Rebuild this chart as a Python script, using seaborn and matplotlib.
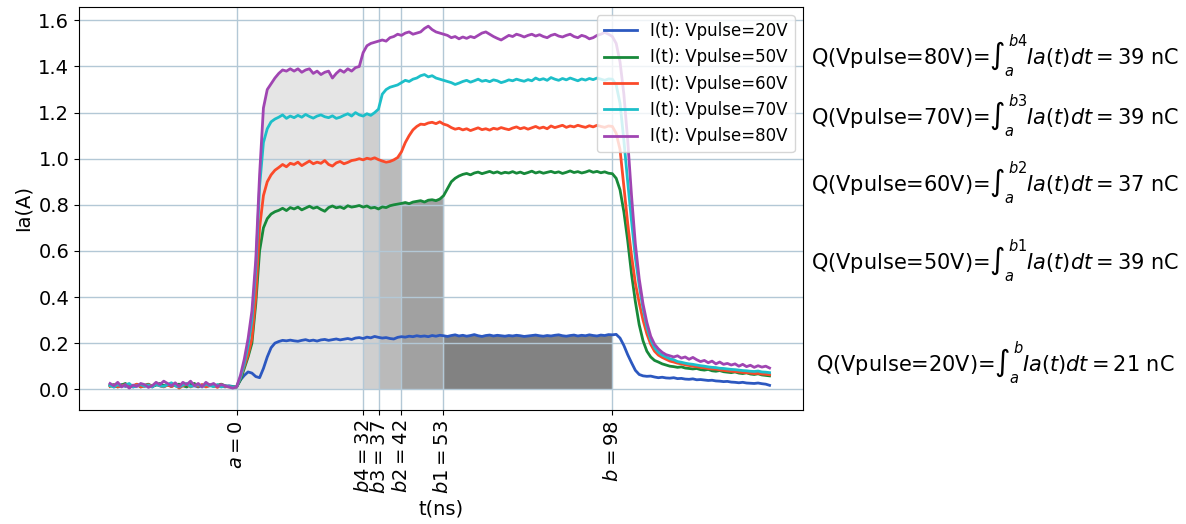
import numpy as np
import matplotlib
matplotlib.use("Agg")
import matplotlib.pyplot as plt
import seaborn as sns

# time samples (ns)
t_ns = np.arange(-33, 140)

# currents Ia(t) in A, one list per pulse voltage
i_20v = [
    0.02, 0.01, 0.015, 0.02, 0.012, 0.018, 0.01, 0.015, 0.022, 0.013,
    0.017, 0.01, 0.02, 0.015, 0.012, 0.018, 0.025, 0.015, 0.01, 0.017,
    0.013, 0.02, 0.015, 0.01, 0.018, 0.012, 0.016, 0.02, 0.013, 0.015,
    0.01, 0.015, 0.012,
    0.01, 0.04, 0.06, 0.075, 0.07, 0.055, 0.05, 0.09, 0.14, 0.18, 0.2, 0.207, 0.212, 0.21, 0.213,
    0.21, 0.208, 0.212, 0.215, 0.21, 0.213, 0.209, 0.214, 0.216, 0.212,
    0.215, 0.218, 0.214, 0.217, 0.22, 0.216, 0.222,
    0.224, 0.22, 0.226, 0.223, 0.229, 0.225, 0.222, 0.224, 0.22, 0.218,
    0.225, 0.228, 0.226, 0.23, 0.228, 0.232, 0.229, 0.231, 0.228, 0.233,
    0.23, 0.234,
    0.232, 0.229, 0.233, 0.236, 0.231, 0.234, 0.23, 0.233, 0.237, 0.232,
    0.229, 0.233, 0.235, 0.231, 0.234, 0.232, 0.23, 0.233, 0.231, 0.234,
    0.232, 0.229, 0.231, 0.233, 0.235, 0.232, 0.23, 0.233, 0.231, 0.234,
    0.236, 0.232, 0.23, 0.233, 0.235, 0.231, 0.234, 0.232, 0.236, 0.233,
    0.231, 0.235, 0.233, 0.237,
    0.236, 0.238, 0.222, 0.19, 0.15, 0.115, 0.082, 0.064, 0.058, 0.056,
    0.057, 0.053, 0.05, 0.052, 0.049, 0.048, 0.05, 0.046, 0.047, 0.044,
    0.043, 0.045, 0.041, 0.042, 0.04, 0.038, 0.039, 0.036, 0.035, 0.033,
    0.034, 0.031, 0.03, 0.028, 0.03, 0.027, 0.026, 0.025, 0.027, 0.024,
    0.022, 0.017,
]

i_50v = [
    0.015, 0.02, 0.01, 0.018, 0.025, 0.012, 0.015, 0.02, 0.01, 0.017,
    0.022, 0.013, 0.018, 0.025, 0.015, 0.02, 0.012, 0.018, 0.022, 0.015,
    0.01, 0.02, 0.025, 0.013, 0.018, 0.015, 0.02, 0.012, 0.017, 0.022,
    0.015, 0.012, 0.01,
    0.01, 0.04, 0.09, 0.14, 0.2, 0.37, 0.6, 0.7, 0.74, 0.76, 0.77, 0.776, 0.785, 0.775, 0.788,
    0.782, 0.79, 0.778, 0.786, 0.794, 0.785, 0.79, 0.78, 0.772, 0.788,
    0.795, 0.787, 0.791, 0.784, 0.796, 0.79, 0.793,
    0.797, 0.79, 0.795, 0.786, 0.789, 0.782, 0.791, 0.788, 0.796, 0.8,
    0.803, 0.806, 0.81, 0.805, 0.812, 0.815, 0.818, 0.812, 0.82, 0.822,
    0.818, 0.825,
    0.84, 0.87, 0.9, 0.915, 0.925, 0.932, 0.936, 0.93, 0.938, 0.942,
    0.935, 0.94, 0.945, 0.938, 0.943, 0.936, 0.941, 0.938, 0.944, 0.937,
    0.942, 0.935, 0.94, 0.946, 0.938, 0.943, 0.937, 0.941, 0.945, 0.939,
    0.943, 0.936, 0.941, 0.947, 0.94, 0.944, 0.938, 0.942, 0.948, 0.941,
    0.945, 0.939, 0.943, 0.937,
    0.935, 0.915, 0.865, 0.77, 0.645, 0.5, 0.38, 0.28, 0.21, 0.165,
    0.14, 0.125, 0.118, 0.11, 0.105, 0.1, 0.098, 0.095, 0.097, 0.092,
    0.09, 0.088, 0.09, 0.085, 0.083, 0.086, 0.08, 0.078, 0.081, 0.076,
    0.074, 0.072, 0.075, 0.07, 0.068, 0.071, 0.066, 0.064, 0.067, 0.062,
    0.06, 0.058,
]

i_60v = [
    0.012, 0.018, 0.01, 0.015, 0.02, 0.008, 0.015, 0.022, 0.01, 0.014,
    0.02, 0.012, 0.025, 0.015, 0.01, 0.018, 0.012, 0.02, 0.005, 0.015,
    0.022, 0.01, 0.017, 0.013, 0.02, 0.01, 0.015, 0.018, 0.008, 0.02,
    0.012, 0.01, 0.008,
    0.01, 0.05, 0.1, 0.15, 0.22, 0.4, 0.7, 0.84, 0.9, 0.93, 0.95, 0.962, 0.975, 0.965, 0.98,
    0.975, 0.985, 0.97, 0.98, 0.99, 0.978, 0.985, 0.98, 0.992, 0.975,
    0.968, 0.982, 0.988, 0.978, 0.984, 0.992, 0.995,
    1.0, 0.995, 1.002, 0.998, 1.004, 0.996, 0.99, 0.985, 0.988, 0.995,
    1.005, 1.03, 1.07, 1.1, 1.125, 1.14, 1.15, 1.148, 1.155, 1.158,
    1.152, 1.16,
    1.15, 1.145, 1.135, 1.128, 1.132, 1.125, 1.13, 1.122, 1.128, 1.134,
    1.126, 1.13, 1.124, 1.132, 1.128, 1.135, 1.13, 1.126, 1.133, 1.138,
    1.13, 1.135, 1.128, 1.134, 1.14, 1.132, 1.137, 1.13, 1.142, 1.135,
    1.14, 1.145, 1.136, 1.142, 1.138, 1.145, 1.14, 1.136, 1.143, 1.138,
    1.145, 1.14, 1.136, 1.142,
    1.14, 1.11, 1.04, 0.88, 0.72, 0.58, 0.46, 0.375, 0.3, 0.24,
    0.195, 0.165, 0.148, 0.138, 0.13, 0.122, 0.118, 0.113, 0.11, 0.106,
    0.103, 0.1, 0.098, 0.095, 0.093, 0.09, 0.088, 0.087, 0.084, 0.082,
    0.08, 0.078, 0.077, 0.075, 0.073, 0.072, 0.07, 0.068, 0.069, 0.066,
    0.065, 0.063,
]

i_70v = [
    0.015, 0.01, 0.02, 0.012, 0.018, 0.025, 0.01, 0.015, 0.02, 0.013,
    0.018, 0.01, 0.022, 0.015, 0.012, 0.02, 0.028, 0.015, 0.01, 0.018,
    0.025, 0.012, 0.015, 0.02, 0.01, 0.022, 0.015, 0.012, 0.02, 0.01,
    0.015, 0.012, 0.01,
    0.01, 0.05, 0.11, 0.19, 0.3, 0.52, 0.88, 1.07, 1.13, 1.16, 1.172, 1.18, 1.19, 1.175, 1.185,
    1.178, 1.188, 1.18, 1.192, 1.183, 1.176, 1.185, 1.19, 1.182, 1.178,
    1.186, 1.175, 1.18, 1.188, 1.195, 1.185, 1.2,
    1.19, 1.185, 1.195, 1.188, 1.2, 1.215, 1.28, 1.3, 1.31, 1.315,
    1.32, 1.33, 1.34, 1.335, 1.345, 1.35, 1.36, 1.365, 1.355, 1.36,
    1.35, 1.345,
    1.34, 1.335, 1.33, 1.322, 1.328, 1.335, 1.34, 1.332, 1.338, 1.345,
    1.336, 1.34, 1.334, 1.342, 1.338, 1.33, 1.335, 1.342, 1.338, 1.345,
    1.34, 1.336, 1.343, 1.338, 1.35, 1.342, 1.347, 1.34, 1.352, 1.345,
    1.34, 1.348, 1.342, 1.35, 1.344, 1.338, 1.346, 1.341, 1.348, 1.343,
    1.35, 1.345, 1.34, 1.346,
    1.345, 1.32, 1.24, 1.08, 0.9, 0.73, 0.57, 0.45, 0.35, 0.27,
    0.215, 0.18, 0.16, 0.148, 0.14, 0.132, 0.128, 0.12, 0.117, 0.113,
    0.11, 0.108, 0.105, 0.102, 0.1, 0.097, 0.095, 0.094, 0.091, 0.09,
    0.088, 0.086, 0.085, 0.083, 0.081, 0.08, 0.078, 0.077, 0.079, 0.075,
    0.074, 0.072,
]

i_80v = [
    0.025, 0.015, 0.03, 0.01, 0.02, 0.005, 0.018, 0.012, 0.025, 0.02,
    0.008, 0.015, 0.03, 0.02, 0.035, 0.025, 0.015, 0.028, 0.012, 0.03,
    0.02, 0.035, 0.015, 0.025, 0.01, 0.03, 0.018, 0.025, 0.012, 0.02,
    0.015, 0.01, 0.005,
    0.01, 0.06, 0.13, 0.22, 0.34, 0.56, 0.93, 1.22, 1.3, 1.325, 1.35, 1.37, 1.385, 1.38, 1.39,
    1.38, 1.39, 1.375, 1.385, 1.39, 1.37, 1.38, 1.365, 1.375, 1.38,
    1.35, 1.37, 1.385, 1.375, 1.39, 1.38, 1.395,
    1.4, 1.46, 1.49, 1.5, 1.505, 1.51, 1.515, 1.51, 1.525, 1.53,
    1.54, 1.535, 1.545, 1.55, 1.54, 1.545, 1.55, 1.565, 1.575, 1.56,
    1.55, 1.545,
    1.54, 1.535, 1.525, 1.53, 1.52, 1.528, 1.522, 1.53, 1.525, 1.535,
    1.545, 1.55, 1.54, 1.53, 1.522, 1.515, 1.525, 1.535, 1.53, 1.54,
    1.535, 1.528, 1.535, 1.54, 1.532, 1.538, 1.53, 1.525, 1.535, 1.54,
    1.532, 1.528, 1.535, 1.54, 1.53, 1.525, 1.535, 1.53, 1.52, 1.525,
    1.535, 1.54, 1.548, 1.54,
    1.53, 1.5, 1.42, 1.28, 1.08, 0.84, 0.63, 0.48, 0.37, 0.29,
    0.23, 0.195, 0.175, 0.16, 0.15, 0.145, 0.14, 0.145, 0.135, 0.14,
    0.13, 0.138, 0.128, 0.12, 0.125, 0.115, 0.122, 0.11, 0.118, 0.108,
    0.112, 0.105, 0.11, 0.1, 0.108, 0.098, 0.104, 0.095, 0.102, 0.096,
    0.1, 0.092,
]

series_labels = ["I(t): Vpulse=20V", "I(t): Vpulse=50V", "I(t): Vpulse=60V",
                 "I(t): Vpulse=70V", "I(t): Vpulse=80V"]
series_colors = ["#2c58c0", "#17893a", "#fb4a2a", "#1dbfc9", "#a045b2"]
series_values = [i_20v, i_50v, i_60v, i_70v, i_80v]
for v in series_values:
    assert len(v) == len(t_ns), len(v)

# integration bounds (tick positions) and labels
tick_pos = [0, 33.0, 37.2, 42.9, 53.8, 98.0]
tick_labels = ["$a = 0$", "$b4 = 32$", "$b3 = 37$", "$b2 = 42$", "$b1 = 53$", "$b = 98$"]

# charges
q_volts = [80, 70, 60, 50, 20]
q_limits = ["b4", "b3", "b2", "b1", "b"]
q_values = [39, 39, 37, 39, 21]

fig = plt.figure(figsize=(11.86, 5.24), dpi=100)
ax = fig.add_axes([0.0666, 0.2176, 0.6104, 0.769])

# shaded integration areas: each curve from previous bound to its own bound
fill_specs = [(i_80v, 0, 1, 0.10), (i_70v, 1, 2, 0.19), (i_60v, 2, 3, 0.27),
              (i_50v, 3, 4, 0.37), (i_20v, 4, 5, 0.49)]
for vals, k0, k1, alpha in fill_specs:
    lo, hi = round(tick_pos[k0]), round(tick_pos[k1])
    m = (t_ns >= lo) & (t_ns <= hi)
    ax.fill_between(t_ns, 0, vals, where=m, color="black", alpha=alpha, lw=0)

for vals, lab, col in zip(series_values, series_labels, series_colors):
    sns.lineplot(x=t_ns, y=vals, color=col, label=lab, lw=2, ax=ax)

ax.set_xlim(-41.1, 147.7)
ax.set_ylim(-0.09, 1.658)
ax.set_yticks(np.arange(0, 1.61, 0.2))
ax.set_yticklabels([f"{v:.1f}" for v in np.arange(0, 1.61, 0.2)])
ax.set_xticks(tick_pos)
ax.set_xticklabels(tick_labels, rotation=90)
ax.tick_params(labelsize=14)
ax.grid(True, color="#b3c8d6", lw=1)
ax.set_axisbelow("line")
ax.set_xlabel("t(ns)", fontsize=14)
ax.set_ylabel("Ia(A)", fontsize=14)
for s in ax.spines.values():
    s.set_color("black")

ax.legend(loc="upper right", fontsize=12)

y_base = [0.878, 0.763, 0.635, 0.485, 0.292]
for v, lim, q, yb in zip(q_volts, q_limits, q_values, y_base):
    fig.text(0.839, yb,
             "Q(Vpulse=%dV)=$\\int_a^{%s}Ia(t)dt = %d$ nC" % (v, lim, q),
             ha="center", va="baseline", fontsize=15)

fig.savefig("out.png", dpi=100)
